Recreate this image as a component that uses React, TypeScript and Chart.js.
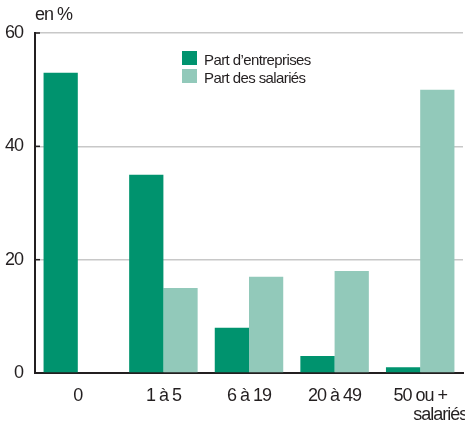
import React, { useEffect, useRef } from "react";
import { Chart, registerables } from "chart.js";

Chart.register(...registerables);

const categories: (string | string[])[] = ["0", "1 à 5", "6 à 19", "20 à 49", ["50 ou +", "          salariés"]];
const partEntreprises = [53, 35, 8, 3, 1];
const partSalaries = [0, 15, 17, 18, 50];
const yTicks = [0, 20, 40, 60];
const seriesLabels = ["Part d’entreprises", "Part des salariés"];
const colors = ["#00936e", "#92c9ba"];

const FONT = "'Liberation Sans', Arial, sans-serif";
const TEXT = "#231f20";
const SPACING = "-1px";

const narrowText = {
  id: "narrowText",
  beforeInit(chart: any) {
    chart.ctx.letterSpacing = SPACING;
  },
  beforeDraw(chart: any) {
    chart.ctx.letterSpacing = SPACING;
  },
};

const innerTicks = {
  id: "innerTicks",
  afterDatasetsDraw(chart: any) {
    const y = chart.scales.y;
    const ctx = chart.ctx;
    ctx.save();
    ctx.strokeStyle = "#231f20";
    ctx.lineWidth = 1.5;
    yTicks.forEach((v) => {
      const py = y.getPixelForValue(v);
      ctx.beginPath();
      ctx.moveTo(y.right, py);
      ctx.lineTo(y.right + 5, py);
      ctx.stroke();
    });
    ctx.restore();
  },
};

export default function App() {
  const ref = useRef<HTMLCanvasElement>(null);
  useEffect(() => {
    document.body.style.margin = "0";
    const ctx = ref.current!.getContext("2d") as any;
    ctx.letterSpacing = SPACING;
    const chart = new Chart(ref.current!, {
      type: "bar",
      data: {
        labels: categories,
        datasets: [
          { label: seriesLabels[0], data: partEntreprises, backgroundColor: colors[0], categoryPercentage: 0.8, barPercentage: 1 },
          { label: seriesLabels[1], data: partSalaries, backgroundColor: colors[1], categoryPercentage: 0.8, barPercentage: 1 },
        ],
      },
      options: {
        animation: false,
        responsive: false,
        layout: { padding: { top: 33, right: 2, left: 0, bottom: 0 } },
        plugins: { legend: { display: false }, tooltip: { enabled: false } },
        scales: {
          x: {
            grid: { display: false, drawTicks: false },
            border: { color: "#231f20", width: 2 },
            ticks: {
              color: TEXT,
              font: { family: FONT, size: 18, lineHeight: 1.06 },
              padding: 13,
              maxRotation: 0,
              autoSkip: false,
            },
            afterFit: (s: any) => {
              s.height = 48;
              s.paddingLeft = 0;
              s.paddingRight = 0;
            },
          },
          y: {
            min: 0,
            max: 60,
            afterBuildTicks: (s: any) => {
              s.ticks = yTicks.map((v) => ({ value: v }));
            },
            grid: { color: "#c8c8c8", lineWidth: 1.5, drawTicks: false },
            border: { color: "#231f20", width: 2 },
            ticks: { color: TEXT, font: { family: FONT, size: 18 }, padding: 12 },
            afterFit: (s: any) => {
              s.width = 35;
            },
          },
        },
      },
      plugins: [narrowText, innerTicks],
    });
    return () => chart.destroy();
  }, []);

  const legendText: React.CSSProperties = {
    position: "absolute",
    left: 204,
    fontFamily: FONT,
    fontSize: 15,
    lineHeight: "15px",
    letterSpacing: "-0.6px",
    color: TEXT,
    whiteSpace: "nowrap",
  };

  return (
    <div style={{ position: "relative", width: 465, height: 421, background: "#fff" }}>
      <canvas ref={ref} width={465} height={421} style={{ display: "block" }} />
      <div style={{ position: "absolute", left: 35, top: 5, fontFamily: FONT, fontSize: 18, lineHeight: "18px", letterSpacing: SPACING, color: TEXT }}>
        en %
      </div>
      <div style={{ position: "absolute", left: 182, top: 51, width: 15, height: 14, background: colors[0] }} />
      <div style={{ position: "absolute", left: 182, top: 69, width: 15, height: 14, background: colors[1] }} />
      <div style={{ ...legendText, top: 52 }}>{seriesLabels[0]}</div>
      <div style={{ ...legendText, top: 70 }}>{seriesLabels[1]}</div>
    </div>
  );
}
